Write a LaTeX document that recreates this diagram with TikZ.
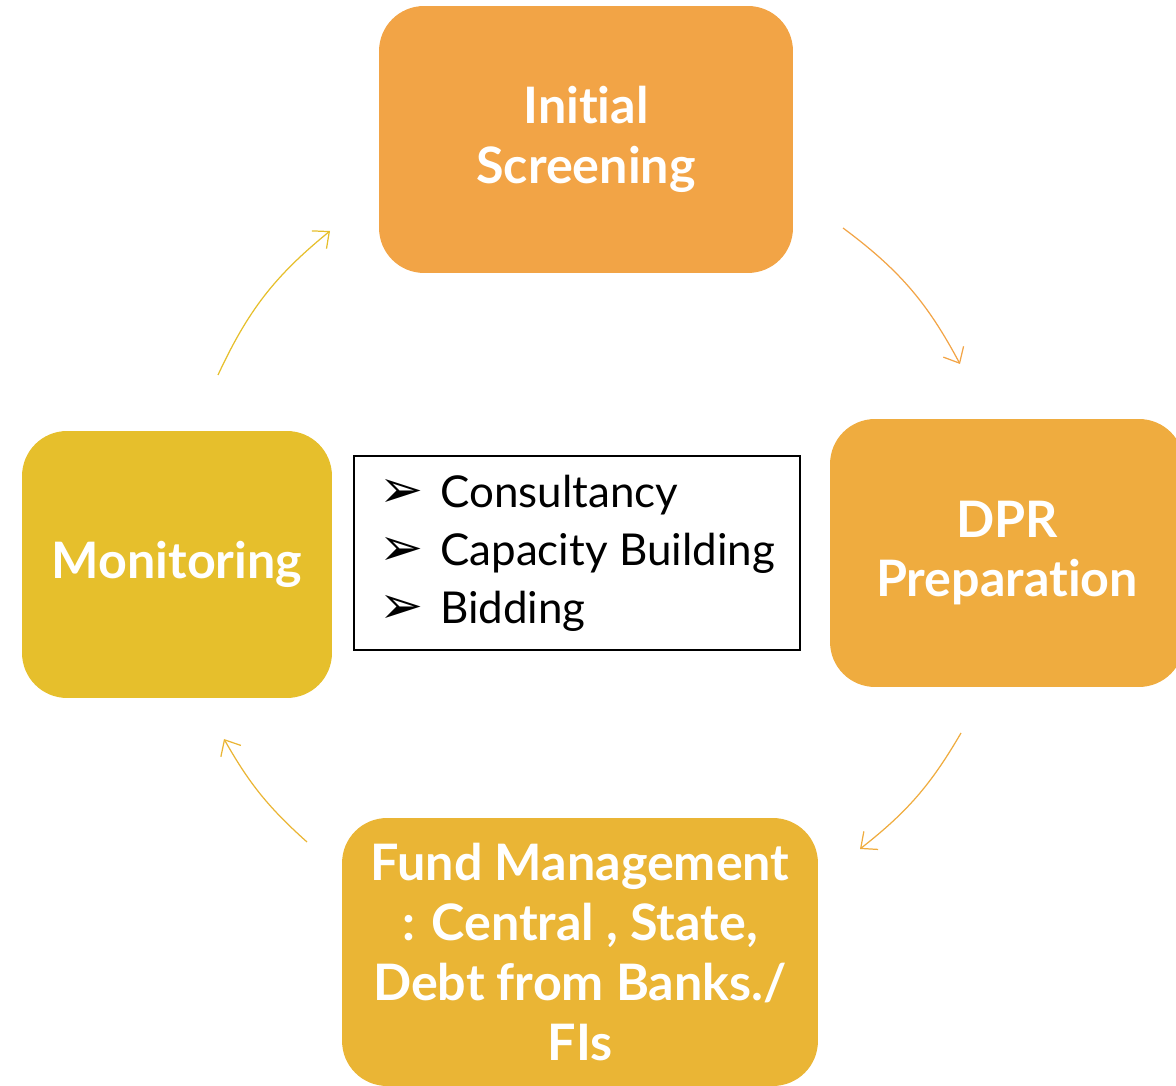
\documentclass[tikz,border=0pt]{standalone}
\usepackage{fontspec}
\setmainfont{Lato}[Ligatures=NoCommon]
\newfontfamily\symfont{DejaVu Sans}
\usetikzlibrary{arrows.meta}

\definecolor{initcol}{HTML}{F2A446}
\definecolor{dprcol}{HTML}{EFAC3F}
\definecolor{fundcol}{HTML}{EAB535}
\definecolor{moncol}{HTML}{E6BF2C}

\tikzset{
  stage/.style={rounded corners=0.9cm, text=white, align=center,
    font=\fontsize{28.6}{34}\selectfont\bfseries},
  cyc/.style={-{Straight Barb[length=2.6mm,width=4.6mm]}, line width=0.7pt},
}
\newcommand{\bulmark}{\makebox[1.22cm][l]{\symfont\fontsize{30}{33}\selectfont ➢}}

\begin{document}
\begin{tikzpicture}[x=0.02cm, y=0.02cm]
\useasboundingbox (0,0) rectangle (1176,1085);

\node(init) at (586, 945.5) [stage, fill=initcol, minimum width=8.28cm, minimum height=5.34cm] {Initial\\Screening};
\node(dpr) at (1007, 532) [stage, fill=dprcol, minimum width=7.08cm, minimum height=5.36cm] {DPR\\Preparation};
\node(fund) at (580, 133) [stage, fill=fundcol, minimum width=9.52cm, minimum height=5.36cm] {Fund Management\\: Central , State,\\Debt from Banks./\\FIs};
\node(mon) at (177, 520.5) [stage, fill=moncol, minimum width=6.2cm, minimum height=5.34cm] {Monitoring};

\node(tasks) at (577, 532) [draw, line width=0.85pt, minimum width=8.92cm, minimum height=3.88cm, align=left, font=\fontsize{25}{33}\selectfont]
  {\bulmark Consultancy\\ \bulmark Capacity Building\\ \bulmark Bidding};

% arrows round the cycle
\coordinate(a1s) at (843, 857);
\coordinate(a1e) at (960, 721);
\coordinate(a2s) at (961, 352);
\coordinate(a2e) at (860, 236);
\coordinate(a3s) at (307, 243);
\coordinate(a3e) at (224, 346);
\coordinate(a4s) at (218, 710);
\coordinate(a4e) at (330, 854);

\draw[cyc, initcol] (a1s) to[bend left=12.6] (a1e);
\draw[cyc, dprcol] (a2s) to[bend left=10.8] (a2e);
\draw[cyc, fundcol] (a3s) to[bend left=9.3] (a3e);
\draw[cyc, moncol] (a4s) to[bend left=12.9] (a4e);

\end{tikzpicture}
\end{document}
